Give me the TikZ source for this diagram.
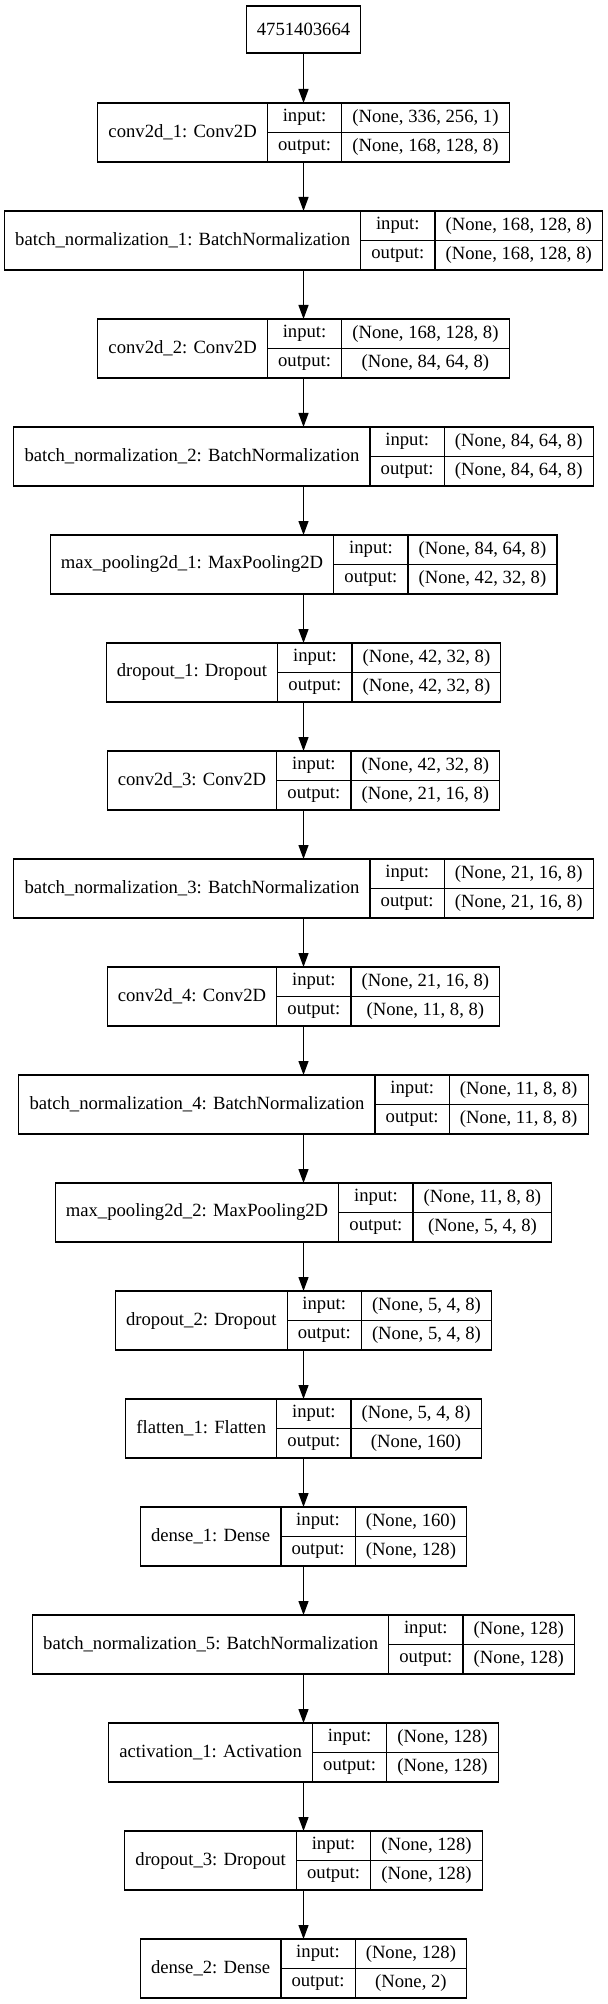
\documentclass[tikz,border=0pt]{standalone}
\usepackage{fontspec}
\setmainfont{Liberation Serif}
\usetikzlibrary{arrows.meta}

\newcommand{\boxfont}{\fontsize{14pt}{16.8pt}\selectfont}
\newdimen\labw
\newdimen\iow
\newdimen\valw
\newdimen\othw
\newdimen\totw

% width of a text, set in the box font
\newcommand{\measure}[2]{%
  \pgfinterruptpicture\setbox0=\hbox{\boxfont #2}\global#1=\wd0\endpgfinterruptpicture}

% one keras layer: name, y, label, input shape, output shape
\newcommand{\layerbox}[5]{%
  \measure{\labw}{#3}\advance\labw by 16pt
  \measure{\iow}{output:}\advance\iow by 16pt
  \measure{\valw}{#4}\measure{\othw}{#5}%
  \ifdim\othw>\valw \valw=\othw\fi
  \advance\valw by 16pt
  \totw=\dimexpr\labw+\iow+\valw\relax
  \node[frame, minimum width=\totw] (#1) at (303.5,#2) {};
  \node[cell, minimum width=\labw, minimum height=44.25pt] (#1-lab) at (#1.north west) {#3};
  \node[cell, minimum width=\iow] (#1-io) at (#1-lab.north east) {input:};
  \node[cell, minimum width=\iow] (#1-oo) at (#1-io.south west) {output:};
  \node[cell, minimum width=\valw] (#1-iv) at (#1-io.north east) {#4};
  \node[cell, minimum width=\valw] (#1-ov) at (#1-oo.north east) {#5};
}

\begin{document}
\begin{tikzpicture}[x=0.75pt, y=-0.75pt, font=\boxfont,
        frame/.style = {minimum height=44.25pt, inner sep=0pt, outer sep=0pt},
        cell/.style = {draw, anchor=north west, inner sep=0pt, outer sep=0pt, minimum height=22.125pt, line width=0.9pt},
        topbox/.style = {draw, inner xsep=8pt, inner ysep=0pt, outer sep=0pt, minimum height=35.25pt, line width=0.9pt},
        arrow/.style = {-{Triangle[length=10.5pt,width=7.5pt]}, line width=0.9pt},
        ]
        \useasboundingbox (0,0) rectangle (607,2004);
        \node[topbox] (inp) at (303.5,29.5) {4751403664};
        \layerbox{conv1}{132.5}{conv2d\_1: Conv2D}{(None, 336, 256, 1)}{(None, 168, 128, 8)}
        \layerbox{bn1}{240.5}{batch\_normalization\_1: BatchNormalization}{(None, 168, 128, 8)}{(None, 168, 128, 8)}
        \layerbox{conv2}{348.5}{conv2d\_2: Conv2D}{(None, 168, 128, 8)}{(None, 84, 64, 8)}
        \layerbox{bn2}{456.5}{batch\_normalization\_2: BatchNormalization}{(None, 84, 64, 8)}{(None, 84, 64, 8)}
        \layerbox{pool1}{564.5}{max\_pooling2d\_1: MaxPooling2D}{(None, 84, 64, 8)}{(None, 42, 32, 8)}
        \layerbox{drop1}{672.5}{dropout\_1: Dropout}{(None, 42, 32, 8)}{(None, 42, 32, 8)}
        \layerbox{conv3}{780.5}{conv2d\_3: Conv2D}{(None, 42, 32, 8)}{(None, 21, 16, 8)}
        \layerbox{bn3}{888.5}{batch\_normalization\_3: BatchNormalization}{(None, 21, 16, 8)}{(None, 21, 16, 8)}
        \layerbox{conv4}{996.5}{conv2d\_4: Conv2D}{(None, 21, 16, 8)}{(None, 11, 8, 8)}
        \layerbox{bn4}{1104.5}{batch\_normalization\_4: BatchNormalization}{(None, 11, 8, 8)}{(None, 11, 8, 8)}
        \layerbox{pool2}{1212.5}{max\_pooling2d\_2: MaxPooling2D}{(None, 11, 8, 8)}{(None, 5, 4, 8)}
        \layerbox{drop2}{1320.5}{dropout\_2: Dropout}{(None, 5, 4, 8)}{(None, 5, 4, 8)}
        \layerbox{flat1}{1428.5}{flatten\_1: Flatten}{(None, 5, 4, 8)}{(None, 160)}
        \layerbox{dense1}{1536.5}{dense\_1: Dense}{(None, 160)}{(None, 128)}
        \layerbox{bn5}{1644.5}{batch\_normalization\_5: BatchNormalization}{(None, 128)}{(None, 128)}
        \layerbox{act1}{1752.5}{activation\_1: Activation}{(None, 128)}{(None, 128)}
        \layerbox{drop3}{1860.5}{dropout\_3: Dropout}{(None, 128)}{(None, 128)}
        \layerbox{dense2}{1968.5}{dense\_2: Dense}{(None, 128)}{(None, 2)}
        \foreach \a/\b in {inp/conv1, conv1/bn1, bn1/conv2, conv2/bn2, bn2/pool1, pool1/drop1,
                drop1/conv3, conv3/bn3, bn3/conv4, conv4/bn4, bn4/pool2, pool2/drop2,
                drop2/flat1, flat1/dense1, dense1/bn5, bn5/act1, act1/drop3, drop3/dense2}
            \draw[arrow] (\a) -- (\b);
    \end{tikzpicture}
\end{document}
